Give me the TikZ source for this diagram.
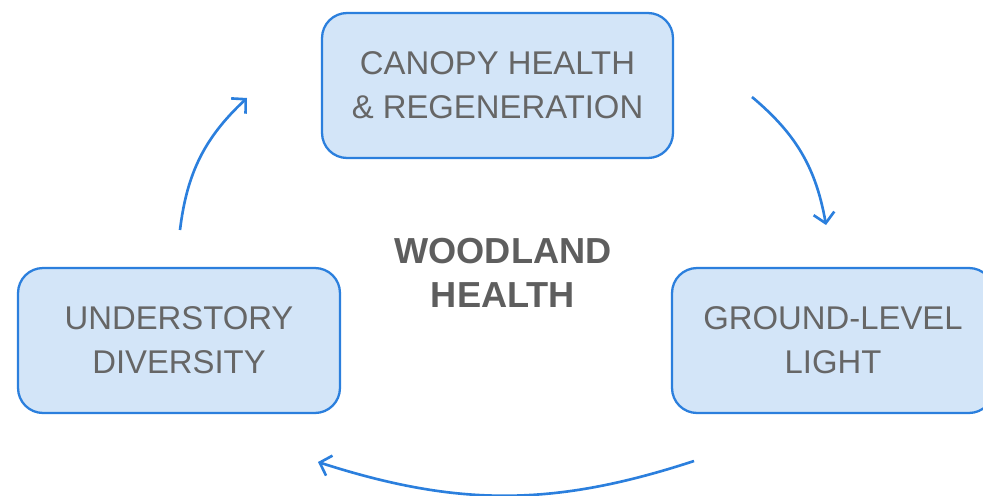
\documentclass[tikz,border=0pt]{standalone}
\usepackage{fontspec}
\setmainfont{Liberation Sans}
\usetikzlibrary{arrows.meta}

\definecolor{boxfill}{HTML}{D3E5F8}
\definecolor{boxline}{HTML}{2B7FDD}
\definecolor{labelgrey}{HTML}{666666}
\definecolor{titlegrey}{HTML}{5E5E5E}

\begin{document}
\begin{tikzpicture}[x=0.02cm, y=0.02cm,
  stage/.style={draw=boxline, fill=boxfill, line width=1.3pt,
    rounded corners=0.5cm, minimum width=6.44cm, minimum height=2.9cm,
    align=center, text=labelgrey, font=\fontsize{18.7}{25}\selectfont},
  flow/.style={draw=boxline, line width=1.5pt,
    -{Straight Barb[length=2mm, width=4.2mm]}}]

  \clip (0,0) rectangle (983,495);

  \node[stage, minimum width=7.02cm] (canopy) at (497.5,409.5) {CANOPY HEALTH\\\& REGENERATION};
  \node[stage] (light) at (833,154.5) {GROUND-LEVEL\\LIGHT};
  \node[stage] (understory) at (179,154.5) {UNDERSTORY\\DIVERSITY};

  \node[text=titlegrey, align=center, font=\bfseries\fontsize{20.6}{25}\selectfont]
    (woodland) at (503,222) {WOODLAND\\HEALTH};

  \coordinate (canopyout) at (752,398);
  \coordinate (lightin) at (826,270);
  \coordinate (lightout) at (694,34);
  \coordinate (understoryin) at (318,33);
  \coordinate (understoryout) at (180,265);
  \coordinate (canopyin) at (247,397);

  \draw[flow] (canopyout) to[bend left=20] (lightin);
  \draw[flow] (lightout) to[bend left=18] (understoryin);
  \draw[flow] (understoryout) to[bend left=20] (canopyin);

\end{tikzpicture}
\end{document}
